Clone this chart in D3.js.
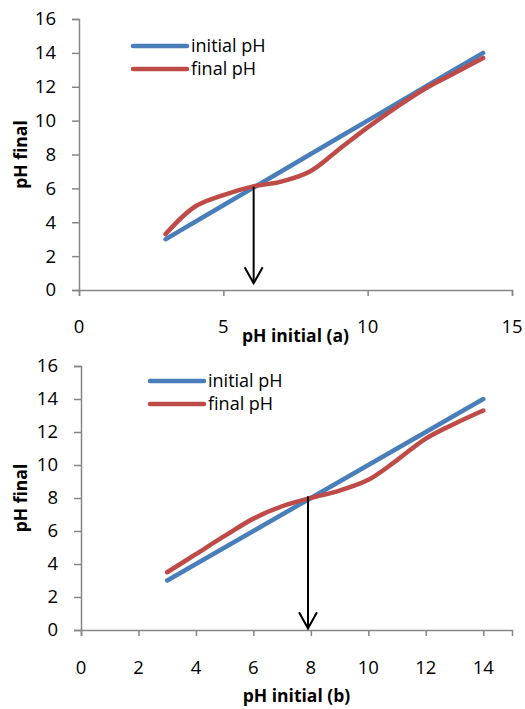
<!DOCTYPE html>
<html>
<head>
<meta charset="utf-8">
<script src="https://cdn.jsdelivr.net/npm/d3@7"></script>
<style>
  body { margin: 0; background: #fff; }
  svg text { font-family: "Open Sans", Lato, sans-serif; fill: #000; }
</style>
</head>
<body>
<svg width="525" height="709"></svg>
<script>
// valores
var phInicial = [3, 4, 5, 6, 7, 8, 9, 10, 11, 12, 13, 14];
var finalA = [3.3, 4.9, 5.6, 6.1, 6.4, 7.0, 8.3, 9.6, 10.8, 11.9, 12.8, 13.7];
var finalB = [3.5, 4.6, 5.7, 6.75, 7.5, 8.0, 8.45, 9.1, 10.3, 11.6, 12.5, 13.3];
var ticksXA = [0, 5, 10, 15];
var ticksXB = [0, 2, 4, 6, 8, 10, 12, 14];
var ticksY = [0, 2, 4, 6, 8, 10, 12, 14, 16];
var series = ["initial pH", "final pH"];
var seta = [{x: 6.05, y0: 6.1, y1: 0.4}, {x: 7.9, y0: 8.1, y1: 0.1}];

var cores = ['#4A7EBB', '#BE4B48'];
var svg = d3.select('svg');

var graficos = [
    {final: finalA, ticksX: ticksXA, titulo: "pH initial (a)", seta: seta[0],
     x0: 79, x1: 512, yTop: 19, yBot: 290, tickY: 333, tituloY: 342,
     legX: 133, legY: 46},
    {final: finalB, ticksX: ticksXB, titulo: "pH initial (b)", seta: seta[1],
     x0: 81, x1: 512, yTop: 366, yBot: 630, tickY: 674, tituloY: 702,
     legX: 150, legY: 381}
];

graficos.forEach(desenhaGrafico);

function desenhaGrafico(cfg) {
    var x = d3.scaleLinear().domain([0, 15]).range([cfg.x0, cfg.x1]);
    var y = d3.scaleLinear().domain([0, 16]).range([cfg.yBot, cfg.yTop]);
    var g = svg.append('g');

    // eixo y
    var eixoY = g.append('g')
        .attr('transform', 'translate(' + cfg.x0 + ',0)')
        .call(d3.axisLeft(y).tickValues(ticksY).tickSize(7).tickPadding(16).tickFormat(d3.format('d')));
    eixoY.select('.domain').attr('stroke', '#868686').attr('stroke-width', 1.5);
    eixoY.selectAll('.tick line').attr('stroke', '#868686').attr('stroke-width', 1.5);
    eixoY.selectAll('text').style('font-size', '18.5px').style('font-family', '"Open Sans"').attr('fill', '#000');

    // eixo x
    var eixoX = g.append('g')
        .attr('transform', 'translate(0,' + cfg.yBot + ')')
        .call(d3.axisBottom(x).tickValues(cfg.ticksX).tickSize(6).tickFormat(d3.format('d')));
    eixoX.select('.domain').attr('stroke', '#868686').attr('stroke-width', 1.5);
    eixoX.selectAll('.tick line').attr('stroke', '#868686').attr('stroke-width', 1.5);
    eixoX.selectAll('text').remove();

    g.selectAll('.xlab')
        .data(cfg.ticksX)
        .enter()
        .append('text')
        .attr('x', function (d) { return x(d); })
        .attr('y', cfg.tickY)
        .attr('text-anchor', 'middle')
        .style('font-size', '18.5px')
        .text(function (d) { return d; });

    // títulos
    g.append('text')
        .attr('x', (cfg.x0 + cfg.x1) / 2)
        .attr('y', cfg.tituloY)
        .attr('text-anchor', 'middle')
        .style('font-size', '17.5px')
        .style('font-weight', 'bold')
        .text(cfg.titulo);

    g.append('text')
        .attr('transform', 'translate(27,' + (cfg.yTop + cfg.yBot) / 2 + ') rotate(-90)')
        .attr('text-anchor', 'middle')
        .style('font-size', '17.5px')
        .style('font-weight', 'bold')
        .text('pH final');

    // linhas
    var linha = d3.line()
        .x(function (d) { return x(d[0]); })
        .y(function (d) { return y(d[1]); })
        .curve(d3.curveCatmullRom.alpha(0.5));

    var dados = [phInicial, cfg.final];
    dados.forEach(function (vals, i) {
        g.append('path')
            .datum(phInicial.map(function (v, j) { return [v, vals[j]]; }))
            .attr('d', linha)
            .attr('fill', 'none')
            .attr('stroke', cores[i])
            .attr('stroke-width', 4.5)
            .attr('stroke-linecap', 'round')
            .attr('stroke-linejoin', 'round');
    });

    // seta
    var s = cfg.seta;
    var sx = x(s.x), sy0 = y(s.y0), sy1 = y(s.y1);
    g.append('line')
        .attr('x1', sx).attr('x2', sx)
        .attr('y1', sy0).attr('y2', sy1)
        .attr('stroke', '#000').attr('stroke-width', 2);
    g.append('path')
        .attr('d', 'M' + (sx - 9) + ',' + (sy1 - 16) + 'L' + sx + ',' + sy1 + 'L' + (sx + 9) + ',' + (sy1 - 16))
        .attr('fill', 'none').attr('stroke', '#000').attr('stroke-width', 2);

    // legenda
    series.forEach(function (nome, i) {
        var ly = cfg.legY + i * 23;
        g.append('line')
            .attr('x1', cfg.legX).attr('x2', cfg.legX + 54)
            .attr('y1', ly).attr('y2', ly)
            .attr('stroke', cores[i]).attr('stroke-width', 4.5)
            .attr('stroke-linecap', 'round');
        g.append('text')
            .attr('x', cfg.legX + 58)
            .attr('y', ly)
            .attr('dy', '0.35em')
            .style('font-size', '18px')
            .text(nome);
    });
}
</script>
</body>
</html>
